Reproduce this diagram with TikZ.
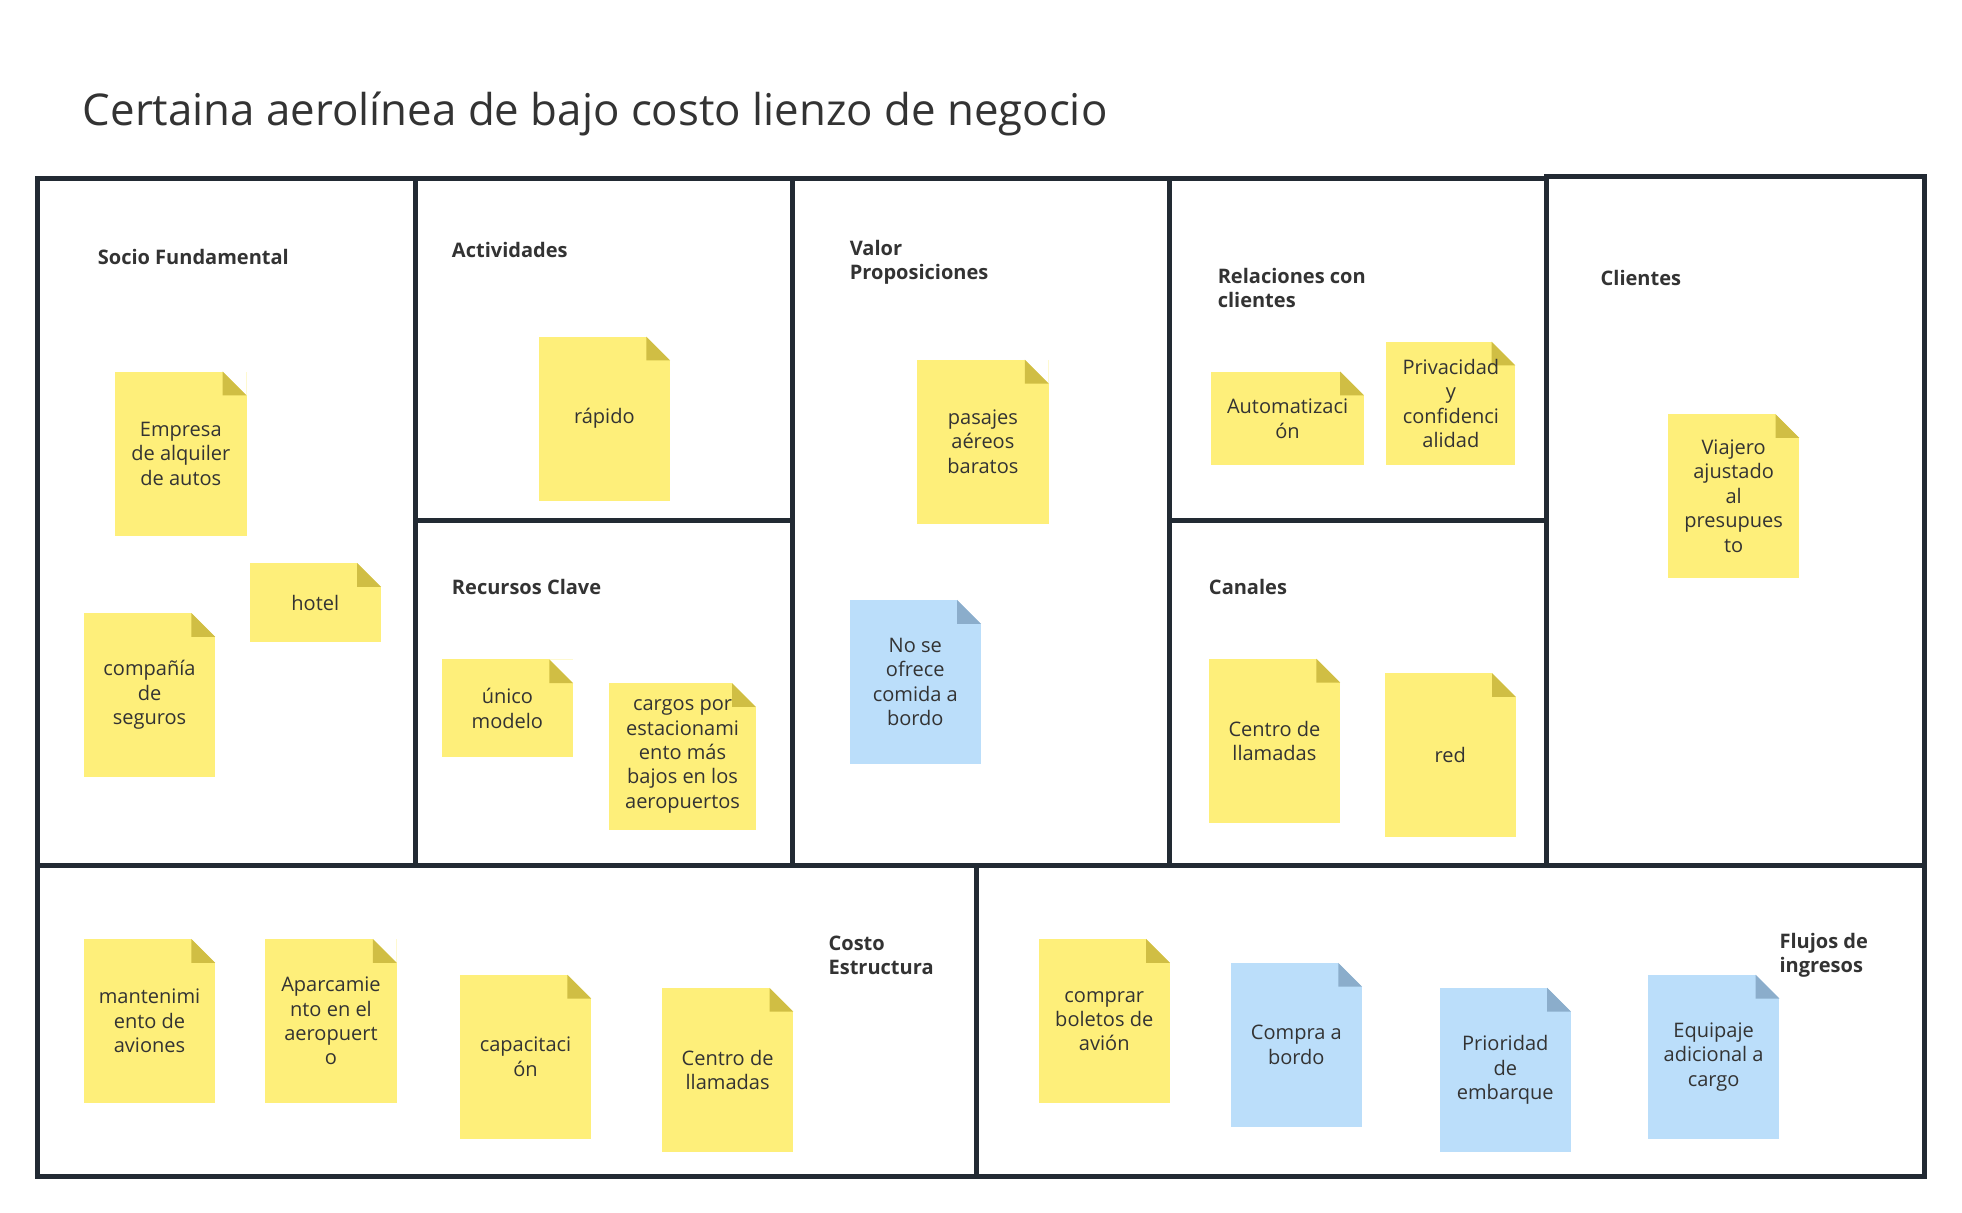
\documentclass[tikz,border=0pt]{standalone}
\usepackage{fontspec}
\setmainfont{Open Sans}
\usetikzlibrary{positioning}
\definecolor{frame}{HTML}{222A33}
\definecolor{inktext}{HTML}{333333}
\definecolor{noteyellow}{HTML}{FEEF7A}
\definecolor{foldyellow}{HTML}{D0BE44}
\definecolor{noteblue}{HTML}{BBDEFA}
\definecolor{foldblue}{HTML}{8BADCB}
\newcommand{\foldsize}{19pt}
\newcommand{\notefont}{\fontsize{16}{19.5}\selectfont}
\tikzset{
    foldcolour/.store in=\foldcolour,
    panel/.style={draw=frame, line width=4pt},
    header/.style={
        anchor=west, inner sep=0pt, align=left,
        text=inktext, font=\fontsize{16}{19.5}\selectfont\bfseries
    },
    note/.style={
        rectangle, inner sep=0pt, align=center,
        minimum width=105pt, minimum height=131pt,
        text=inktext, font=\notefont,
        path picture={
            \fill[white] (path picture bounding box.north east) -- ++(-\foldsize,0pt) -- ++(\foldsize,-\foldsize) -- cycle;
            \fill[\foldcolour] ([xshift=-\foldsize]path picture bounding box.north east) -- ++(0pt,-\foldsize) -- ++(\foldsize,0pt) -- cycle;
        }
    },
    yellownote/.style={note, fill=noteyellow, foldcolour=foldyellow},
    bluenote/.style={note, fill=noteblue, foldcolour=foldblue}
}

\begin{document}
\begin{tikzpicture}[x=1pt, y=-1pt]

\useasboundingbox[fill=white] (0,0) rectangle (1568,969);

% Title
\node[anchor=base west, inner sep=0pt, text=inktext, font=\fontsize{35}{40}\selectfont] (title) at (66,100) {Certaina aerolínea de bajo costo lienzo de negocio};

% Panels
\draw[panel] (30,143) rectangle (332,692);
\draw[panel] (332,143) rectangle (633,416);
\draw[panel] (332,416) rectangle (633,692);
\draw[panel] (633,143) rectangle (935,692);
\draw[panel] (935,143) rectangle (1236,416);
\draw[panel] (935,416) rectangle (1236,692);
\draw[panel] (1236,141) rectangle (1538,692);
\draw[panel] (30,692) rectangle (780,940);
\draw[panel] (780,692) rectangle (1538,940);

% Headers
\node[header] (hpartner) at (78,205) {Socio Fundamental};
\node[header] (hactivity) at (361,200) {Actividades};
\node[header] (hresource) at (361,469) {Recursos Clave};
\node[header] (hvalue) at (679,209.5) {Valor\\Proposiciones};
\node[header] (hrelation) at (973,230) {Relaciones con\\clientes};
\node[header] (hchannel) at (966,469) {Canales};
\node[header] (hclient) at (1279,222) {Clientes};
\node[header] (hcost) at (662,763.5) {Costo\\Estructura};
\node[header] (hrevenue) at (1422,763.5) {Flujos de\\ingresos};

% Key partners
\node[yellownote] (carrental) at (144.5,362.5) {Empresa\\de alquiler\\de autos};
\node[yellownote, minimum height=63pt] (hotel) at (252,481.5) {hotel};
\node[yellownote] (insurer) at (119.5,555.5) {compañía\\de\\seguros};

% Activities and resources
\node[yellownote] (fast) at (483,334.5) {rápido};
\node[yellownote, minimum height=78pt] (onemodel) at (405.5,566) {único\\modelo};
\node[yellownote, minimum width=117pt, minimum height=117pt] (parking) at (545.5,604.5) {cargos por\\estacionami\\ento más\\bajos en los\\aeropuertos};

% Value propositions
\node[yellownote] (cheap) at (785.5,353) {pasajes\\aéreos\\baratos};
\node[bluenote] (nofood) at (731.5,545) {No se\\ofrece\\comida a\\bordo};

% Relations and channels
\node[yellownote, minimum width=122pt, minimum height=75pt] (automation) at (1029,334.5) {Automatizaci\\ón};
\node[yellownote, minimum width=103pt, minimum height=99pt] (privacy) at (1159.5,322.5) {Privacidad\\y\\confidenci\\alidad};
\node[yellownote] (callcentre) at (1018.5,592) {Centro de\\llamadas};
\node[yellownote] (network) at (1159,603.5) {red};

% Clients
\node[yellownote] (traveller) at (1385.5,396.5) {Viajero\\ajustado\\al\\presupues\\to};

% Cost structure
\node[yellownote] (upkeep) at (119.5,816) {mantenimi\\ento de\\aviones};
\node[yellownote] (airportpark) at (264.5,816) {Aparcamie\\nto en el\\aeropuert\\o};
\node[yellownote] (training) at (420,844.5) {capacitaci\\ón};
\node[yellownote] (callcost) at (581.5,855) {Centro de\\llamadas};

% Revenue streams
\node[yellownote] (tickets) at (882.5,816) {comprar\\boletos de\\avión};
\node[bluenote] (onboard) at (1036,835) {Compra a\\bordo};
\node[bluenote] (boarding) at (1203,855) {Prioridad\\de\\embarque};
\node[bluenote] (luggage) at (1369.5,844.5) {Equipaje\\adicional a\\cargo};

\end{tikzpicture}
\end{document}
